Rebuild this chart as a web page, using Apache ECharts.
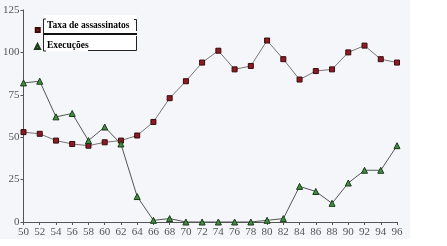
<!DOCTYPE html>
<html><head><meta charset="utf-8">
<script src="https://cdn.jsdelivr.net/npm/echarts@6/dist/echarts.min.js"></script>
<style>html,body{margin:0;padding:0;background:#fff}#c{width:447px;height:246px}</style>
</head><body><div id="c"></div>
<script>
const years = ['50','52','54','56','58','60','62','64','66','68','70','72','74','76','78','80','82','84','86','88','90','92','94','96'];
const taxaAssassinatos = [53,52,48,46,45,47,48,51,59,73,83,94,101,90,92,107,96,84,89,90,100,104,96,94];
const execucoes = [82,83,62,64,48,56,46,15,1,2,0,0,0,0,0,1,2,21,18,11,23,30.5,30.5,45];
const yTicks = [0,25,50,75,100,125];

const chart = echarts.init(document.getElementById('c'));
const axisFont = {fontFamily:'Liberation Serif', fontSize:11, color:'#555'};
chart.setOption({
  animation:false,
  backgroundColor:'#ffffff',
  graphic:[
    {type:'rect', z:-10, shape:{x:0,y:0,width:410,height:239}, style:{fill:'#f4f6fa'}},
    {type:'rect', z:9, shape:{x:44,y:15,width:93,height:36}, style:{fill:'#ffffff'}},
    {type:'polyline', z:10, shape:{points:[[46,19],[43.5,19],[43.5,51],[46,51]]}, style:{stroke:'#222',lineWidth:1,fill:null}},
    {type:'polyline', z:10, shape:{points:[[134,19.5],[136.5,19.5],[136.5,31]]}, style:{stroke:'#222',lineWidth:1,fill:null}},
    {type:'line', z:10, shape:{x1:44,y1:34,x2:137,y2:34}, style:{stroke:'#111',lineWidth:2}},
    {type:'polyline', z:10, shape:{points:[[88,50.5],[136.5,50.5],[136.5,36]]}, style:{stroke:'#222',lineWidth:1,fill:null}}
  ],
  legend:{
    orient:'vertical', left:29, top:14, itemGap:6, itemWidth:5, itemHeight:12,
    textStyle:{fontFamily:'Liberation Serif', fontWeight:'bold', fontSize:9.5, color:'#000', padding:[0,0,0,2]},
    data:[
      {name:'Taxa de assassinatos', icon:'path://M0,0 M0.5,8 L4.5,8 L4.5,12 L0.5,12 Z'},
      {name:'Execuções', icon:'path://M0,0 M2.5,4 L5,9 L0,9 Z M0,12'}
    ],
    z:20
  },
  grid:{left:19, top:10, right:50, bottom:24, containLabel:false},
  xAxis:{
    type:'category', data:years, boundaryGap:false,
    axisLine:{lineStyle:{color:'#555',width:1}},
    axisTick:{show:true, length:3, alignWithLabel:true, lineStyle:{color:'#555'}},
    axisLabel:Object.assign({margin:5, interval:0}, axisFont),
    splitLine:{show:false}
  },
  yAxis:{
    type:'value', min:0, max:125, interval:25,
    axisLine:{show:true, lineStyle:{color:'#555',width:1}},
    axisTick:{show:true, length:3, lineStyle:{color:'#555'}},
    axisLabel:Object.assign({margin:4, customValues:yTicks}, axisFont),
    splitLine:{show:false}
  },
  series:[
    {name:'Taxa de assassinatos', type:'line', data:taxaAssassinatos,
     symbol:'rect', symbolSize:5,
     lineStyle:{color:'#777', width:1},
     itemStyle:{color:'#8b1c24', borderColor:'#3a0a0a', borderWidth:1}},
    {name:'Execuções', type:'line', data:execucoes,
     symbol:'triangle', symbolSize:6,
     lineStyle:{color:'#555', width:1},
     itemStyle:{color:'#3f8f3f', borderColor:'#1a3a1a', borderWidth:1}}
  ]
});
</script></body></html>
